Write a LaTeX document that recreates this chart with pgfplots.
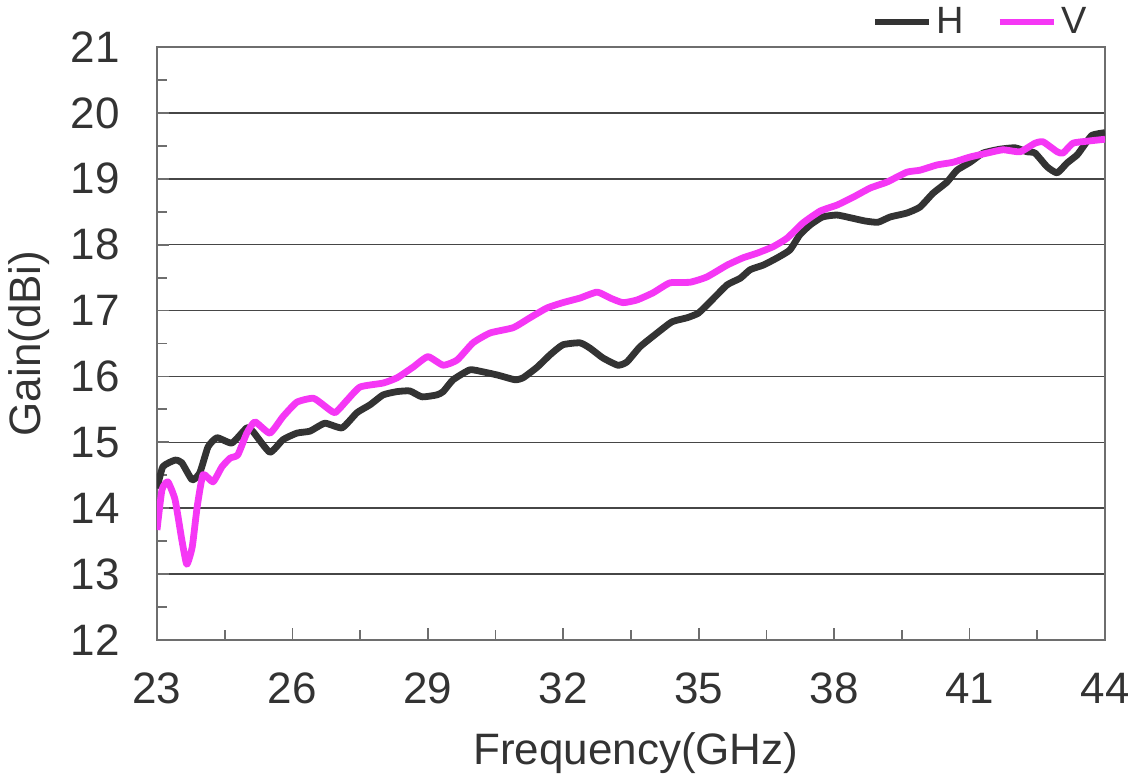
\documentclass[border=0pt]{standalone}
\usepackage{fontspec}
\setmainfont{Liberation Sans}
\usepackage{pgfplots}
\pgfplotsset{compat=1.18}
\usetikzlibrary{calc}

\definecolor{hcol}{RGB}{51,51,51}
\definecolor{vcol}{RGB}{245,55,245}
\definecolor{gridcol}{RGB}{70,70,70}
\definecolor{framecol}{RGB}{110,110,110}
\definecolor{textcol}{RGB}{51,51,51}

\pgfplotstableread{
x y
23.00 14.30
23.13 14.63
23.40 14.73
23.55 14.69
23.78 14.43
23.95 14.54
24.13 14.93
24.33 15.07
24.66 14.99
24.99 15.22
25.13 15.16
25.50 14.85
25.79 15.04
26.10 15.14
26.39 15.17
26.72 15.29
27.10 15.22
27.43 15.45
27.72 15.57
28.01 15.72
28.32 15.77
28.60 15.78
28.87 15.69
29.20 15.72
29.34 15.77
29.56 15.95
29.93 16.10
30.22 16.07
30.55 16.02
30.93 15.95
31.11 15.98
31.42 16.14
31.71 16.33
31.99 16.48
32.37 16.51
32.59 16.43
32.88 16.28
33.21 16.17
33.41 16.22
33.70 16.45
34.08 16.66
34.41 16.83
34.74 16.89
34.99 16.96
35.25 17.13
35.63 17.39
35.92 17.49
36.14 17.62
36.43 17.69
36.74 17.80
37.02 17.92
37.24 18.15
37.47 18.30
37.74 18.42
38.06 18.45
38.35 18.41
38.68 18.36
38.97 18.34
39.24 18.42
39.61 18.48
39.90 18.57
40.19 18.78
40.50 18.95
40.72 19.13
41.01 19.25
41.30 19.39
41.68 19.45
42.01 19.47
42.27 19.41
42.45 19.39
42.72 19.18
42.94 19.09
43.16 19.24
43.38 19.36
43.51 19.48
43.71 19.66
44.00 19.70
}\hdata

\pgfplotstableread{
x y
23.00 13.67
23.11 14.28
23.24 14.40
23.40 14.13
23.55 13.52
23.66 13.15
23.78 13.41
23.89 14.02
24.02 14.51
24.24 14.40
24.44 14.63
24.62 14.76
24.79 14.81
24.99 15.14
25.17 15.31
25.50 15.14
25.79 15.39
26.10 15.61
26.46 15.67
26.68 15.57
26.94 15.45
27.21 15.64
27.50 15.84
28.01 15.90
28.32 15.98
28.67 16.14
29.00 16.30
29.34 16.17
29.65 16.25
30.00 16.51
30.38 16.66
30.89 16.74
31.26 16.89
31.64 17.04
31.99 17.12
32.37 17.19
32.75 17.28
33.04 17.19
33.32 17.12
33.63 17.16
33.99 17.27
34.36 17.42
34.81 17.43
35.18 17.51
35.63 17.69
35.98 17.80
36.29 17.87
36.65 17.97
36.96 18.10
37.31 18.33
37.69 18.51
38.06 18.60
38.42 18.72
38.80 18.86
39.17 18.95
39.61 19.10
39.90 19.13
40.28 19.21
40.63 19.25
41.01 19.33
41.39 19.39
41.74 19.44
42.12 19.41
42.45 19.54
42.63 19.56
42.94 19.41
43.07 19.39
43.29 19.54
43.60 19.57
44.00 19.60
}\vdata

\begin{document}
\begin{tikzpicture}
\begin{axis}[
  name=ax,
  scale only axis,
  width=474pt,
  height=296.5pt,
  xmin=23, xmax=44,
  ymin=12, ymax=21,
  xtick={23,26,...,44},
  minor xtick={24.5,27.5,...,42.5},
  ytick={12,...,21},
  minor ytick={12.5,13.5,...,20.5},
  tick align=inside,
  major tick length=6pt,
  minor tick length=5pt,
  xtick pos=bottom,
  ytick pos=left,
  tick style={draw=framecol, line width=0.9pt},
  ymajorgrids,
  major grid style={draw=gridcol, line width=0.8pt},
  axis line style={draw=framecol, line width=0.9pt},
  /pgf/number format/assume math mode=true,
  ticklabel style={font=\fontsize{22}{26}\selectfont, text=textcol},
  xticklabel style={yshift=-13pt},
  yticklabel style={xshift=-15pt},
  xlabel={Frequency(GHz)},
  ylabel={Gain(dBi)},
  label style={font=\fontsize{22}{26}\selectfont, text=textcol},
  xlabel style={at={(axis description cs:0.505,-0.19)}, anchor=center},
  ylabel style={at={(axis description cs:-0.135,0.5)}, anchor=center},
  legend columns=2,
  legend style={at={(axis description cs:0.985,1.042)}, anchor=east,
    draw=none, fill=none, font=\fontsize{19}{23}\selectfont, text=textcol,
    /tikz/every even column/.append style={column sep=14pt}},
  legend image code/.code={\draw[#1] (0pt,0pt) -- (27pt,0pt);},
  every axis legend/.append style={inner sep=0pt, cells={anchor=west, inner xsep=1pt}},
]
\addplot[hcol, line width=3.4pt, line join=round, smooth, tension=0.3] table {\hdata};
\addlegendentry{H}
\addplot[vcol, line width=3.4pt, line join=round, smooth, tension=0.3] table {\vdata};
\addlegendentry{V}
\end{axis}
\pgfresetboundingbox
\path[use as bounding box] ($(ax.south west)+(-78.5pt,-70pt)$) rectangle ($(ax.north east)+(11.5pt,23.5pt)$);
\end{tikzpicture}
\end{document}
